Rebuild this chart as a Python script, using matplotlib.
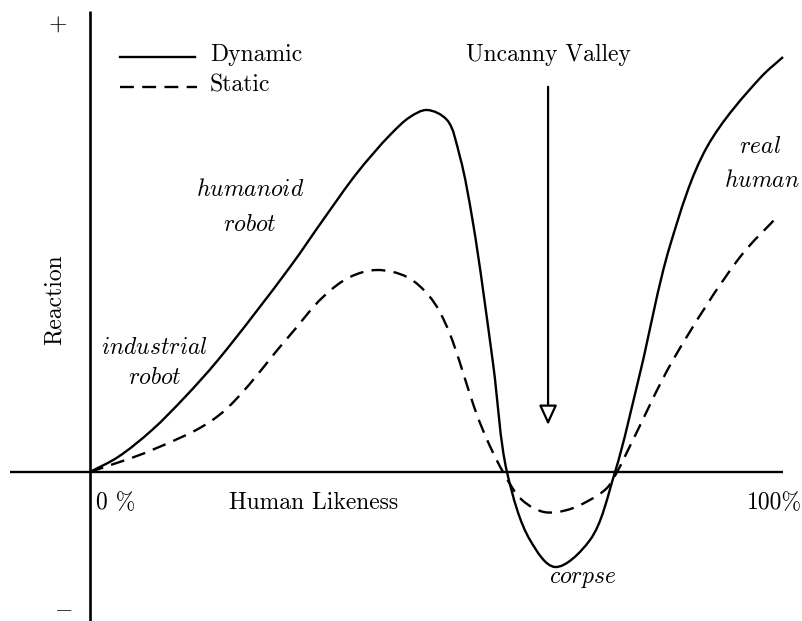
import numpy as np
import matplotlib
matplotlib.use("Agg")
import matplotlib.pyplot as plt
from matplotlib.path import Path
from matplotlib.patches import PathPatch

plt.rcParams['mathtext.fontset'] = 'cm'
plt.rcParams['font.family'] = 'cmr10'
plt.rcParams['axes.formatter.use_mathtext'] = True
plt.rcParams['lines.scale_dashes'] = False

# human likeness (%) and reaction (arbitrary units)
dyn_x = [0, 4.04, 8.95, 13.71, 18.47, 28.86, 33.62, 38.53, 43.29, 46.18, 48.63,
         51.52, 53.39, 55.27, 58.15, 60.17, 63.49, 67.10, 72.15, 75.76,
         79.37, 83.69, 89.03, 96.68, 100]
dyn_y = [0, 4.14, 11.60, 20.72, 30.94, 56.63, 69.61, 82.60, 93.09, 98.07, 100.0,
         97.24, 87.02, 68.78, 30.11, 0, -18.78, -26.24, -18.78, 0,
         27.35, 62.5, 89.78, 108.8, 114.64]

sta_x = [0, 8.95, 18.47, 28.14, 33.62, 37.52, 41.41, 45.74, 49.06, 51.52, 56.28,
         59.60, 62.34, 65.51, 68.83, 71.86, 74.60, 76.05, 78.35, 84.13, 93.80, 99.13]
sta_y = [0, 6.08, 15.47, 36.19, 48.34, 53.87, 55.80, 53.87, 48.34, 40.06, 13.54,
         0, -7.73, -11.05, -10.50, -8.01, -4.42, 0, 8.84, 30.94, 59.39, 70.44]

SX, SY = 6.93, 3.62   # pixels per unit, used for the curve parameter only


def smooth_path(xs, ys, alpha=0.5):
    # centripetal catmull-rom drawn as bezier segments through the points
    p = np.column_stack([xs, ys]).astype(float)
    q = p * [SX, SY]
    n = len(p)
    d = np.linalg.norm(np.diff(q, axis=0), axis=1) ** alpha
    t = np.concatenate([[0], np.cumsum(d)])
    tang = np.zeros_like(p)
    for i in range(n):
        if i == 0:
            tang[i] = (p[1] - p[0]) / (t[1] - t[0])
        elif i == n - 1:
            tang[i] = (p[-1] - p[-2]) / (t[-1] - t[-2])
        else:
            t0, t1, t2 = t[i - 1], t[i], t[i + 1]
            tang[i] = ((p[i] - p[i - 1]) / (t1 - t0) * (t2 - t1)
                       + (p[i + 1] - p[i]) / (t2 - t1) * (t1 - t0)) / (t2 - t0)
    verts = [p[0]]
    codes = [Path.MOVETO]
    for i in range(n - 1):
        h = t[i + 1] - t[i]
        verts += [p[i] + tang[i] * h / 3, p[i + 1] - tang[i + 1] * h / 3, p[i + 1]]
        codes += [Path.CURVE4] * 3
    return Path(verts, codes)


fig = plt.figure(figsize=(8.03, 6.21), dpi=100)
ax = fig.add_axes([0, 0, 1, 1])
ax.set_xlim(-90 / SX, 713 / SX)
ax.set_ylim(-149 / SY, 472 / SY)
ax.axis('off')

# hand drawn axes through the origin
ax.plot([-11.5, 100], [0, 0], color='black', lw=1.7, solid_capstyle='butt')
ax.plot([0, 0], [-42, 127.3], color='black', lw=1.9, solid_capstyle='butt')

ax.add_patch(PathPatch(smooth_path(dyn_x, dyn_y), fc='none', ec='black', lw=1.7,
                       joinstyle='round'))
sta = PathPatch(smooth_path(sta_x, sta_y), fc='none', ec='black', lw=1.7)
sta.set_linestyle((0, (10, 6)))
ax.add_patch(sta)

# legend
ax.plot([4.3, 15.2], [114.6, 114.6], color='black', lw=1.7)
ax.plot([4.3, 15.5], [106.4, 106.4], color='black', lw=1.7, dashes=(10, 6))
fs = 17
ax.text(17.3, 115.2, 'Dynamic', fontsize=fs, va='center', ha='left')
ax.text(17.3, 106.9, 'Static', fontsize=fs, va='center', ha='left')

ax.text(-4.62, 123.5, r'$+$', fontsize=fs, ha='center', va='center')
ax.text(-3.9, -37.6, r'$-$', fontsize=fs, ha='center', va='center')

ax.text(66.1, 115.2, 'Uncanny Valley', fontsize=fs, ha='center', va='center')
ax.annotate('', xy=(66.1, 13.0), xytext=(66.1, 106.4),
            arrowprops=dict(arrowstyle='-|>,head_length=1.2,head_width=0.55',
                            fc='white', ec='black', lw=1.6,
                            shrinkA=0, shrinkB=0))

ax.text(32.2, -8.6, 'Human Likeness', fontsize=fs, ha='center', va='center')
ax.text(0.9, -8.6, '0 %', fontsize=fs, ha='left', va='center')
ax.text(102.8, -8.6, '100%', fontsize=fs, ha='right', va='center')
ax.text(-5.05, 47.5, 'Reaction', fontsize=fs, ha='center', va='center', rotation=90)

labels = [
    (9.38, 34.3, 'industrial'), (9.38, 26.0, 'robot'),
    (23.1, 77.9, 'humanoid'), (23.1, 68.2, 'robot'),
    (96.7, 89.8, 'real'), (97.0, 80.4, 'human'),
    (71.1, -29.6, 'corpse'),
]
for lx, ly, s in labels:
    ax.text(lx, ly, r'$\mathit{' + s + '}$', fontsize=fs, ha='center', va='center')

fig.savefig('out.png', dpi=100)
